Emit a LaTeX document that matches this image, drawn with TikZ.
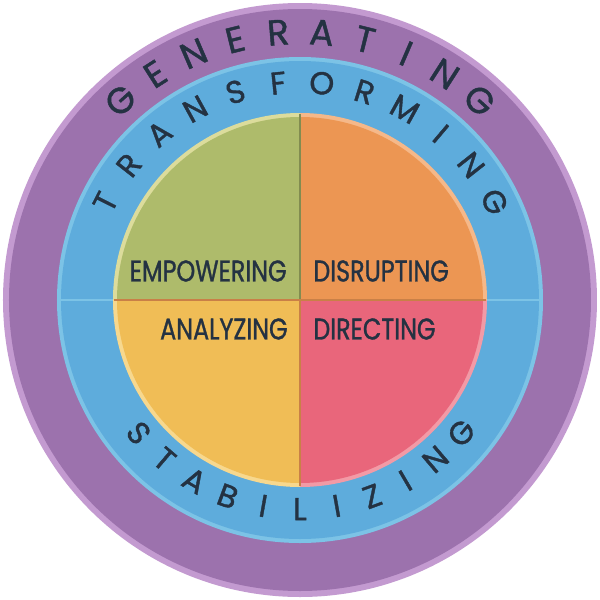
\documentclass[tikz,border=0pt]{standalone}
\usepackage{fontspec}
\setmainfont{Poppins}[FakeBold=1.2]
\newfontfamily\quadfont{Poppins}[FakeStretch=0.8, FakeBold=1.0]
\usepackage{xcolor}
\usepackage{tikz}
\usetikzlibrary{positioning}

\definecolor{rimpurple}{HTML}{C39AD0}
\definecolor{ringpurple}{HTML}{9C72AD}
\definecolor{rimblue}{HTML}{7CC3E6}
\definecolor{ringblue}{HTML}{5EACDC}
\definecolor{qgreen}{HTML}{AEBB6B}
\definecolor{qorange}{HTML}{EC9653}
\definecolor{qyellow}{HTML}{F0BD56}
\definecolor{qred}{HTML}{E9667B}
\definecolor{rimgreen}{HTML}{DCDC9C}
\definecolor{rimorange}{HTML}{F5B889}
\definecolor{rimyellow}{HTML}{F7D88E}
\definecolor{rimred}{HTML}{F29AA6}
\definecolor{inktext}{HTML}{243242}

\begin{document}
\begin{tikzpicture}[
    arcletter/.style={inktext, inner sep=0pt, text height=0.7em, text depth=0pt,
                      font=\fontsize{20.5}{20.5}\selectfont},
    bandletter/.style={arcletter, font=\fontsize{18}{18}\selectfont},
    quadlabel/.style={inktext, inner sep=0pt, font=\quadfont\fontsize{17}{17}\selectfont},
    divider/.style={line width=0.9pt},
]
\useasboundingbox (-6,-6) rectangle (6,6);

% Rings
\fill[rimpurple] (0,0) circle (5.94);
\fill[ringpurple] (0,0) circle (5.82);
\fill[rimblue] (0,0) circle (4.86);
\fill[ringblue] (0,0) circle (4.78);
\draw[rimblue, line width=1.2pt] (-4.80,0) -- (4.80,0);

% Quadrants
\foreach \from/\to/\rim/\body in {90/180/rimgreen/qgreen, 0/90/rimorange/qorange,
                                  180/270/rimyellow/qyellow, 270/360/rimred/qred} {
    \fill[\rim] (0,0) -- (\from:3.74) arc (\from:\to:3.74) -- cycle;
    \fill[\body] (0,0) -- (\from:3.66) arc (\from:\to:3.66) -- cycle;
}
\coordinate (hub) at (0,0);
\draw[divider, draw=qgreen!75!black] (hub) -- (0,3.72);
\draw[divider, draw=qorange!85!black] (hub) -- (0,-3.72);
\draw[divider, draw=qorange!85!black] (-3.72,0) -- (3.72,0);

% Quadrant labels
\node[quadlabel, anchor=east] (empowering) at (-0.26,0.58) {EMPOWERING};
\node[quadlabel, anchor=west] (disrupting) at (0.26,0.58) {DISRUPTING};
\node[quadlabel, anchor=east] (analyzing) at (-0.24,-0.58) {ANALYZING};
\node[quadlabel, anchor=west] (directing) at (0.26,-0.58) {DIRECTING};

% Outer band
\foreach \ltr [count=\i] in {G,E,N,E,R,A,T,I,N,G} {
    \pgfmathsetmacro\ang{90+(5.5-\i)*9.33}
    \node[arcletter, rotate=\ang-90] (gen\i) at (\ang:5.24) {\ltr};
}

% Inner band, top
\foreach \ltr [count=\i] in {T,R,A,N,S,F,O,R,M,I,N,G} {
    \pgfmathsetmacro\ang{90+(6.5-\i)*11.5}
    \node[bandletter, rotate=\ang-90] (tra\i) at (\ang:4.26) {\ltr};
}

% Inner band, bottom
\foreach \ltr [count=\i] in {S,T,A,B,I,L,I,Z,I,N,G} {
    \pgfmathsetmacro\ang{270+(\i-6)*10.1}
    \node[bandletter, rotate=\ang+90] (sta\i) at (\ang:4.28) {\ltr};
}

\end{tikzpicture}
\end{document}
